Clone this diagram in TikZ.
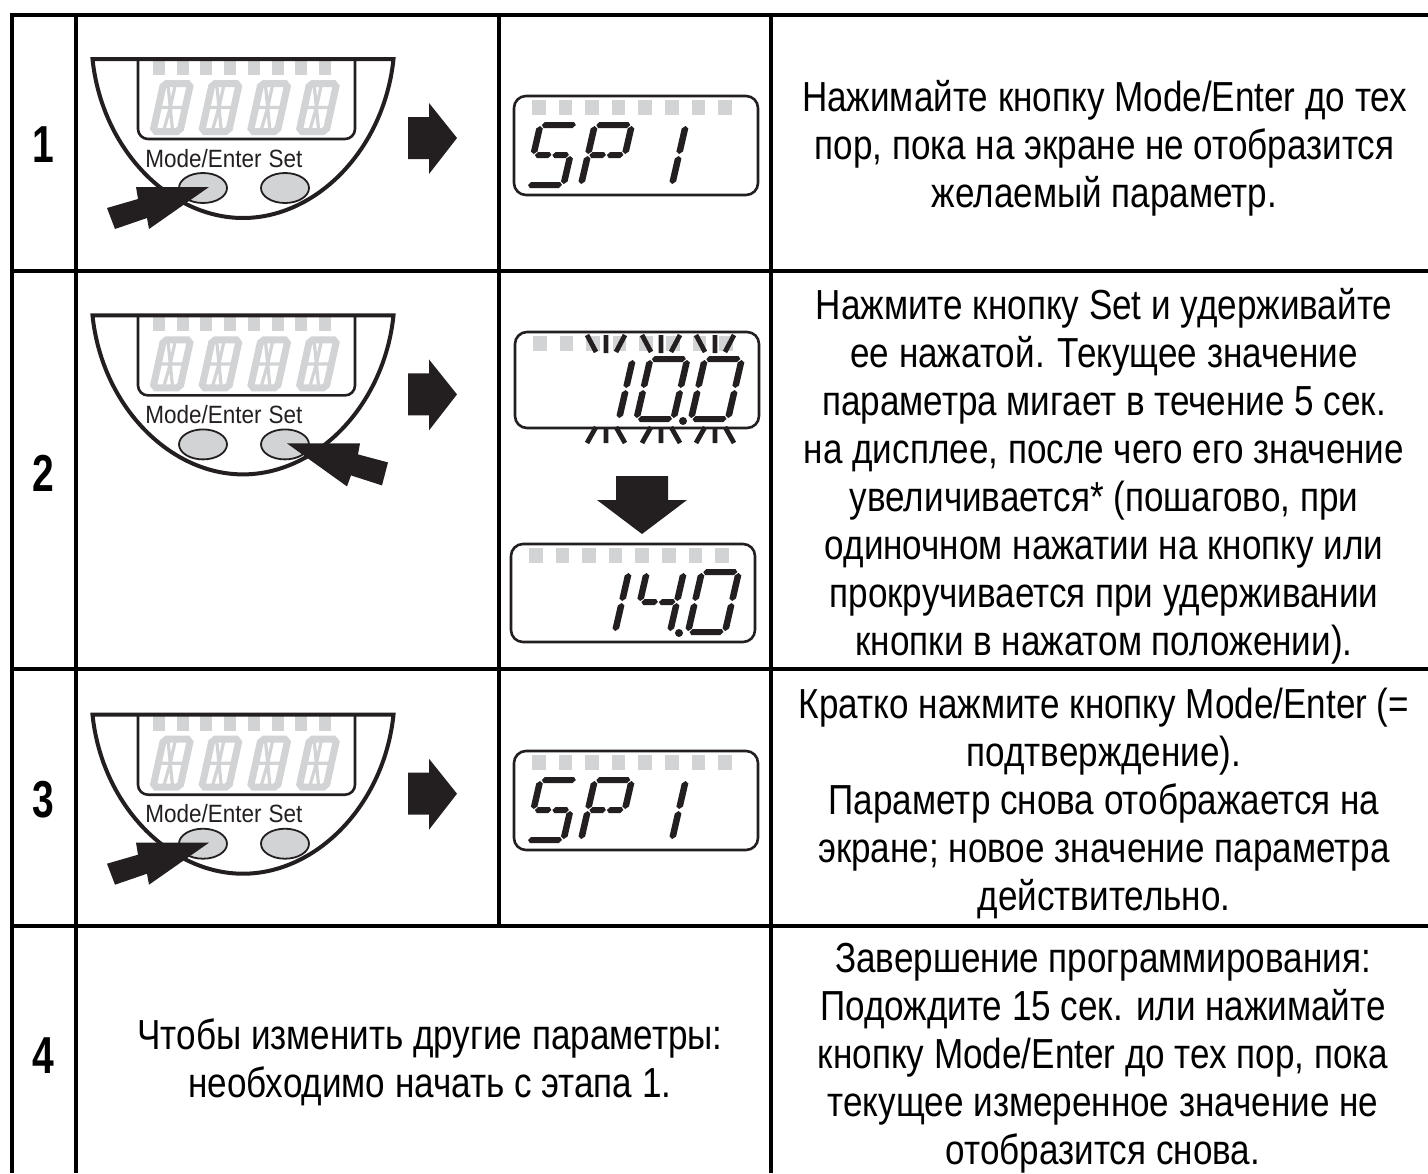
\documentclass[tikz,border=0pt]{standalone}
\usepackage{fontspec}
\setmainfont[FakeStretch=0.835]{Liberation Sans}
\newfontfamily\stepfont[FakeStretch=0.75]{Liberation Sans}
\newfontfamily\keyfont[FakeStretch=0.9]{Liberation Sans}
\definecolor{ghost}{HTML}{D1D3D4}
\definecolor{ink}{HTML}{231F20}
\tikzset{
  rule/.style={line width=2pt,black},
  stepnum/.style={font=\stepfont\bfseries\fontsize{26}{28}\selectfont,inner sep=0pt},
  bodytext/.style={font=\fontsize{21}{24}\selectfont,align=center,inner sep=0pt},
  keylabel/.style={font=\keyfont\fontsize{12.5}{14}\selectfont,anchor=base,inner sep=0pt,text=ink},
  ghostout/.style={line width=3.5pt,ghost},
  ghostin/.style={line width=1.6pt,ghost},
  raystyle/.style={line width=2.4pt,ink},
  hseg/.style n args={3}{insert path={(#1,#3) -- (#1+2.5,#3-3) -- (#2-2.5,#3-3) -- (#2,#3) -- (#2-2.5,#3+3) -- (#1+2.5,#3+3) -- cycle}},
  vseg/.style n args={3}{insert path={(#1,#2) -- (#1+3.3,#2+2.5) -- (#1+3.3,#3-2.5) -- (#1,#3) -- (#1-3.3,#3-2.5) -- (#1-3.3,#2+2.5) -- cycle}},
  sega/.style={hseg={1.5}{35.5}{-60}},
  segb/.style={vseg={37}{-59}{-31}},
  segc/.style={vseg={37}{-29}{-1}},
  segd/.style={hseg={1.5}{35.5}{0}},
  sege/.style={vseg={0}{-29}{-1}},
  segf/.style={vseg={0}{-59}{-31}},
  segg/.style={hseg={1.5}{18}{-30}},
  segh/.style={hseg={19}{35.5}{-30}},
  digit/.pic={
    \begin{scope}[xslant=0.23]
      \foreach \s in {#1} {\fill[ink,seg\s];}
    \end{scope}
  },
  ghostdigit/.pic={
    \begin{scope}[xslant=0.22]
      \draw[ghostout] (3,0) -- (24,0) -- (27,-3) -- (27,-45) -- (24,-48) -- (3,-48) -- (0,-45) -- (0,-3) -- cycle;
      \draw[ghostin] (0,-24) -- (27,-24) (12,-24) -- (5,-46) (12,-24) -- (12,-46)
        (12,-24) -- (10.5,-2) (12,-24) -- (19,-2);
    \end{scope}
  },
  lcd/.pic={
    \foreach \i in {0,...,7} {
      \fill[ghost] (18+26.6*\i,4) rectangle ++(13.5,15);
    }
    \draw[line width=1.3pt,ink,rounded corners=6pt] (0,0) rectangle (244,#1);
  },
  device/.pic={
    \foreach \i in {0,...,7} {
      \fill[ghost] (153+23.7*\i,60) rectangle ++(12,15);
    }
    \foreach \i in {0,...,3} {
      \pic at (153+48.7*\i,131.5) {ghostdigit};
    }
    \draw[line width=1.3pt,ink,rounded corners=5pt] (138,59) -- (138,139) -- (355,139) -- (355,59);
    \draw[line width=2pt,ink] (92.5,59) .. controls (102,150) and (170,218) .. (243,218)
      .. controls (316,218) and (384,150) .. (393.5,59) -- cycle;
    \node[keylabel] (-mode) at (203.5,167) {Mode/Enter};
    \node[keylabel] (-set) at (285.5,167) {Set};
    \draw[line width=0.9pt,ink,fill=ghost] (203,188) ellipse (24 and 15);
    \draw[line width=0.9pt,ink,fill=ghost] (285,188) ellipse (24 and 15);
    \fill[ink] (408,117) -- (429,117) -- (429,103) -- (457,138) -- (429,174) -- (429,159) -- (408,159) -- cycle;
  },
  pressmode/.pic={
    \fill[ink] (209,187) -- (136,187) -- (138,199) -- (107,208) -- (115,229) -- (147,218) -- (149,229) -- cycle;
  },
  pressset/.pic={
    \fill[ink] (287,187) -- (360,187) -- (358,198) -- (388,206) -- (382,229) -- (351,219) -- (347,230) -- cycle;
  }
}
\begin{document}
\begin{tikzpicture}[x=0.5pt,y=-0.5pt]
  \useasboundingbox (0,0) rectangle (1428,1173);

  \draw[rule] (1428,15) -- (11.5,15) -- (11.5,1173);
  \draw[rule] (76,15) -- (76,1173);
  \draw[rule] (499,15) -- (499,926);
  \draw[rule] (771,15) -- (771,1173);
  \foreach \y in {271,669,926} {
    \draw[rule] (11.5,\y) -- (1428,\y);
  }

  \node[stepnum] (numa) at (43,145) {1};
  \node[stepnum] (numb) at (43,473) {2};
  \node[stepnum] (numc) at (43,800) {3};
  \node[stepnum] (numd) at (43,1056) {4};

  \pic (deva) at (0,0) {device};
  \pic at (0,0) {pressmode};
  \pic (devb) at (0,256.4) {device};
  \pic at (0,256.4) {pressset};
  \pic (devc) at (0,655.7) {device};
  \pic at (0,655.7) {pressmode};

  % SP1
  \foreach \yy in {0,655} {
    \begin{scope}[shift={(0,\yy)}]
      \pic at (526.5,185) {digit={a,f,g,h,c,d}};
      \pic at (581,185) {digit={a,b,e,f,g,h}};
      \pic at (635,185) {digit={b,c}};
      \pic at (514,96) {lcd=99};
    \end{scope}
  }

  % blinking value
  \pic at (515,332) {lcd=96};
  \pic at (582,419) {digit={b,c}};
  \pic at (636.5,419) {digit={a,b,c,d,e,f}};
  \pic at (691,419) {digit={a,b,c,d,e,f}};
  \fill[ink] (683,421) circle (4);
  \foreach \x in {606,661,715} {
    \draw[raystyle] (\x,335) -- (\x,353) (\x-19,335) -- (\x-10,352) (\x+19,335) -- (\x+10,352);
    \draw[raystyle] (\x,427) -- (\x,443) (\x-19,443) -- (\x-10,427) (\x+19,443) -- (\x+10,427);
  }
  \fill[ink] (616,476) -- (668,476) -- (668,500) -- (687,500) -- (642,534) -- (597,500) -- (616,500) -- cycle;

  \pic at (511,544) {lcd=98};
  \pic at (578,632) {digit={b,c}};
  \pic at (633,632) {digit={f,g,h,b,c}};
  \pic at (688,632) {digit={a,b,c,d,e,f}};
  \fill[ink] (679,633) circle (4);

  \node[bodytext] (texta) at (1104.5,148) {Нажимайте кнопку Mode/Enter до тех\\пор, пока на экране не отобразится\\желаемый параметр.};
  \node[bodytext] (textb) at (1104,476) {Нажмите кнопку Set и удерживайте\\ее нажатой. Текущее значение\\параметра мигает в течение 5 сек.\\на дисплее, после чего его значение\\увеличивается* (пошагово, при\\одиночном нажатии на кнопку или\\прокручивается при удерживании\\кнопки в нажатом положении).};
  \node[bodytext] (textc) at (1104,803) {Кратко нажмите кнопку Mode/Enter (=\\подтверждение).\\Параметр снова отображается на\\экране; новое значение параметра\\действительно.};
  \node[bodytext] (textd) at (1103,1058.5) {Завершение программирования:\\Подождите 15 сек. или нажимайте\\кнопку Mode/Enter до тех пор, пока\\текущее измеренное значение не\\отобразится снова.};
  \node[bodytext] (texte) at (430,1062) {Чтобы изменить другие параметры:\\необходимо начать с этапа 1.};
\end{tikzpicture}
\end{document}
